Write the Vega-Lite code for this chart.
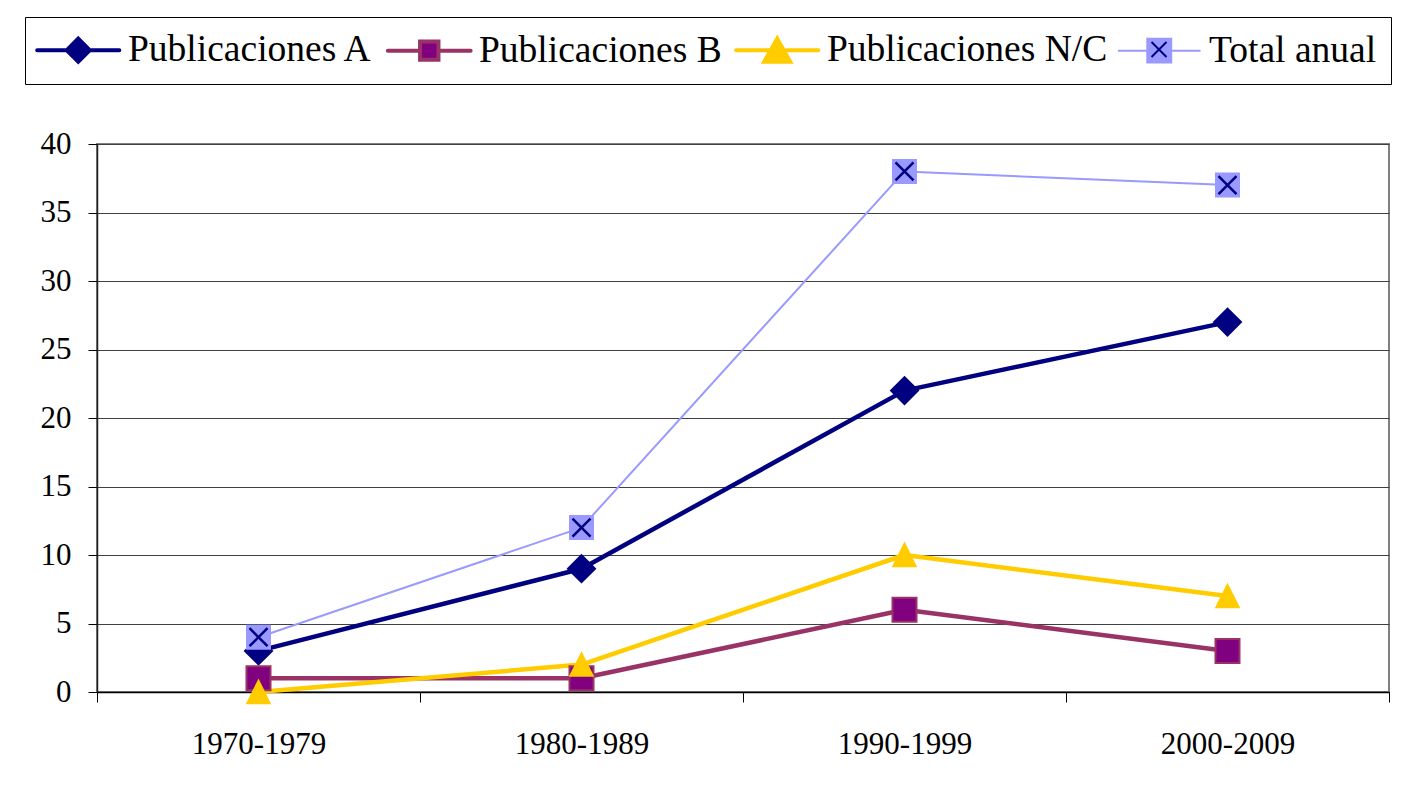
{
  "$schema": "https://vega.github.io/schema/vega-lite/v6.json",
  "width": 1292,
  "height": 548,
  "autosize": {"type": "none"},
  "padding": {"left": 97, "top": 144, "right": 14, "bottom": 107},
  "background": "white",
  "config": {
    "view": {"stroke": "#808080", "strokeWidth": 2},
    "font": "Liberation Serif",
    "axis": {"labelFont": "Liberation Serif", "labelColor": "#000", "tickColor": "#000", "domainColor": "#222", "domainWidth": 1.5, "title": null}
  },
  "data": {
    "values": [
      {"periodo": "1970-1979", "serie": "Publicaciones A", "valor": 3},
      {"periodo": "1980-1989", "serie": "Publicaciones A", "valor": 9},
      {"periodo": "1990-1999", "serie": "Publicaciones A", "valor": 22},
      {"periodo": "2000-2009", "serie": "Publicaciones A", "valor": 27},
      {"periodo": "1970-1979", "serie": "Publicaciones B", "valor": 1},
      {"periodo": "1980-1989", "serie": "Publicaciones B", "valor": 1},
      {"periodo": "1990-1999", "serie": "Publicaciones B", "valor": 6},
      {"periodo": "2000-2009", "serie": "Publicaciones B", "valor": 3},
      {"periodo": "1970-1979", "serie": "Publicaciones N/C", "valor": 0},
      {"periodo": "1980-1989", "serie": "Publicaciones N/C", "valor": 2},
      {"periodo": "1990-1999", "serie": "Publicaciones N/C", "valor": 10},
      {"periodo": "2000-2009", "serie": "Publicaciones N/C", "valor": 7},
      {"periodo": "1970-1979", "serie": "Total anual", "valor": 4},
      {"periodo": "1980-1989", "serie": "Total anual", "valor": 12},
      {"periodo": "1990-1999", "serie": "Total anual", "valor": 38},
      {"periodo": "2000-2009", "serie": "Total anual", "valor": 37}
    ]
  },
  "encoding": {
    "x": {
      "field": "periodo", "type": "nominal",
      "sort": ["1970-1979", "1980-1989", "1990-1999", "2000-2009"],
      "scale": {"type": "band", "paddingInner": 0, "paddingOuter": 0},
      "axis": {"labelAngle": 0, "tickBand": "extent", "labelFontSize": 31, "labelPadding": 27, "tickSize": 10, "grid": false, "domainColor": "#000"}
    },
    "y": {
      "field": "valor", "type": "quantitative",
      "scale": {"domain": [0, 40], "nice": false},
      "axis": {"values": [0, 5, 10, 15, 20, 25, 30, 35, 40], "labelFontSize": 31, "labelPadding": 17, "tickSize": 9, "grid": true, "gridColor": "#404040", "gridWidth": 1}
    }
  },
  "layer": [
    {
      "transform": [{"filter": "datum.serie != 'Total anual'"}],
      "mark": {"type": "line", "strokeJoin": "round", "strokeWidth": 4.5},
      "encoding": {
        "stroke": {
          "field": "serie", "type": "nominal",
          "scale": {"domain": ["Publicaciones A", "Publicaciones B", "Publicaciones N/C", "Total anual"], "range": ["#000080", "#993366", "#FFCC00", "#9999FF"]},
          "legend": {
            "title": null, "orient": "none", "legendX": -72, "legendY": -127, "direction": "horizontal", "columns": 4,
            "padding": 14, "strokeColor": "#000", "fillColor": "#fff",
            "labelFont": "Liberation Serif", "labelFontSize": 37.5, "labelColor": "#000", "labelLimit": 600,
            "labelOffset": 31, "symbolOffset": 20.5, "columnPadding": 6, "symbolSize": 529, "symbolStrokeWidth": 4,
            "encode": {
              "symbols": {
                "update": {
                  "shape": {"signal": "datum.value == 'Publicaciones A' ? 'M-3.57,0H-1M1,0H3.57M0,-1L1,0L0,1L-1,0Z' : datum.value == 'Publicaciones B' ? 'M-3.6,0H-0.8M0.8,0H3.6M-0.8,-0.8H0.8V0.8H-0.8Z' : datum.value == 'Publicaciones N/C' ? 'M-3.57,0H-0.57M0.57,0H3.57M0,-1L1.13,1H-1.13Z' : 'M-3.52,0H-1.04M1.04,0H3.52M-1.04,-1.04H1.04V1.04H-1.04Z'"},
                  "fill": {"signal": "datum.value == 'Publicaciones A' ? '#000080' : datum.value == 'Publicaciones B' ? '#800080' : datum.value == 'Publicaciones N/C' ? '#FFCC00' : '#9999FF'"},
                  "strokeWidth": {"signal": "datum.value == 'Total anual' ? 2 : 4"},
                  "strokeCap": {"value": "round"},
                  "opacity": {"value": 1}
                }
              }
            }
          }
        }
      }
    },
    {
      "transform": [{"filter": "datum.serie == 'Total anual'"}],
      "mark": {"type": "line", "strokeJoin": "round", "strokeWidth": 2},
      "encoding": {
        "stroke": {"field": "serie", "type": "nominal"}
      }
    },
    {
      "transform": [{"filter": "datum.serie == 'Publicaciones A'"}],
      "mark": {"type": "point", "filled": true, "shape": "diamond", "size": 729, "fill": "#000080", "stroke": "#000080", "strokeWidth": 2, "opacity": 1}
    },
    {
      "transform": [{"filter": "datum.serie == 'Publicaciones B'"}],
      "mark": {"type": "point", "filled": true, "shape": "square", "size": 576, "fill": "#800080", "stroke": "#993366", "strokeWidth": 2, "opacity": 1}
    },
    {
      "transform": [{"filter": "datum.serie == 'Publicaciones N/C'"}],
      "mark": {"type": "point", "filled": true, "shape": "M0,-1L1,1L-1,1Z", "size": 500, "fill": "#FFCC00", "stroke": "#FFCC00", "strokeWidth": 2, "opacity": 1}
    },
    {
      "transform": [{"filter": "datum.serie == 'Total anual'"}],
      "mark": {"type": "point", "filled": true, "shape": "square", "size": 529, "fill": "#9999FF", "stroke": "#9999FF", "strokeWidth": 2, "opacity": 1}
    },
    {
      "transform": [{"filter": "datum.serie == 'Total anual'"}],
      "mark": {"type": "point", "filled": false, "stroke": "#000080", "strokeWidth": 2.5, "size": 324, "opacity": 1},
      "encoding": {
        "shape": {
          "field": "serie", "type": "nominal",
          "scale": {"domain": ["Total anual"], "range": ["M-1,-1L1,1M-1,1L1,-1"]},
          "legend": {
            "title": null, "orient": "none", "legendX": 1053.5, "legendY": -103, "padding": 0,
            "labelExpr": "''", "labelFontSize": 1, "symbolSize": 225, "symbolStrokeWidth": 2,
            "symbolStrokeColor": "#000080", "symbolFillColor": "transparent"
          }
        }
      }
    }
  ]
}
